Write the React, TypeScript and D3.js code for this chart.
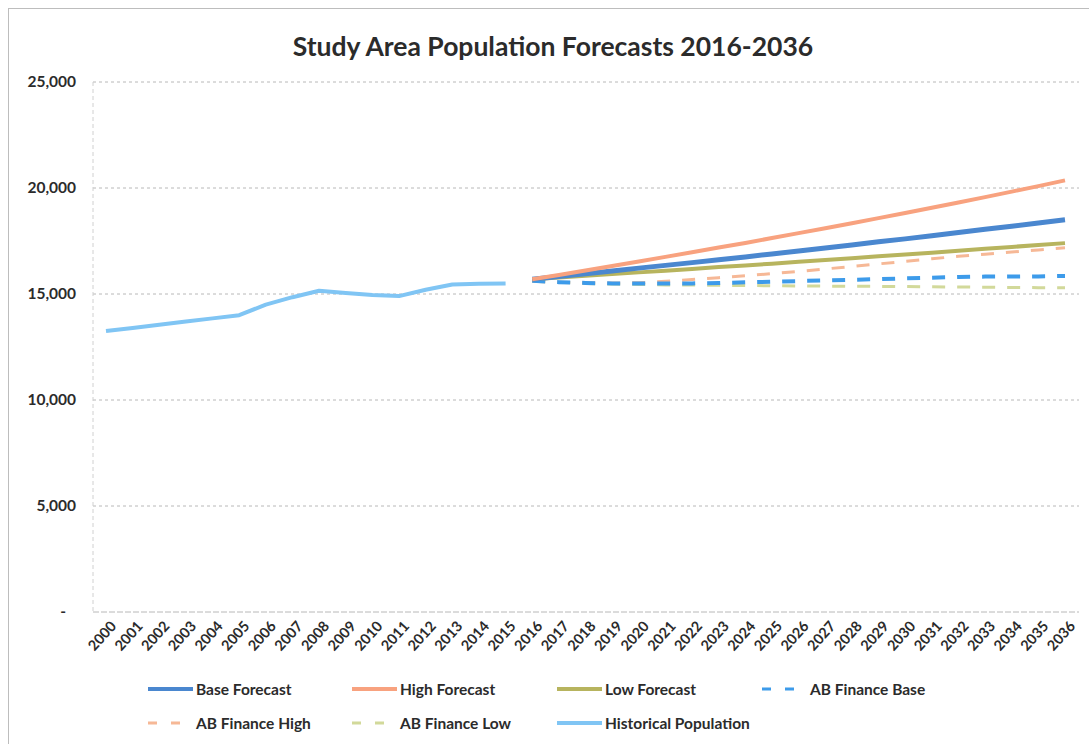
import React from "react";
import * as d3 from "d3";

// Years on the category axis
const years: number[] = d3.range(2000, 2037);
const forecastYears: number[] = d3.range(2016, 2037);
const historicalYears: number[] = d3.range(2000, 2016);

// Historical population 2000-2015
const historicalPopulation: number[] = [
  13250, 13400, 13550, 13700, 13850, 14000, 14500, 14850, 15150, 15050, 14950,
  14900, 15200, 15450, 15480, 15500,
];

// Forecasts 2016-2036
const baseForecast: number[] = [
  15700, 15830, 15960, 16090, 16220, 16350, 16480, 16620, 16750, 16890, 17030,
  17170, 17310, 17460, 17600, 17750, 17900, 18050, 18200, 18350, 18500,
];
const highForecast: number[] = [
  15700, 15900, 16110, 16320, 16530, 16750, 16970, 17190, 17410, 17640, 17870,
  18100, 18340, 18580, 18820, 19070, 19320, 19570, 19830, 20090, 20360,
];
const lowForecast: number[] = [
  15700, 15780, 15860, 15940, 16020, 16100, 16180, 16270, 16350, 16430, 16520,
  16600, 16690, 16780, 16860, 16950, 17040, 17130, 17220, 17310, 17400,
];
const abFinanceBase: number[] = [
  15620, 15560, 15520, 15500, 15490, 15490, 15500, 15520, 15550, 15580, 15610,
  15640, 15670, 15700, 15740, 15770, 15800, 15820, 15820, 15830, 15850,
];
const abFinanceHigh: number[] = [
  15600, 15560, 15530, 15520, 15530, 15600, 15680, 15770, 15860, 15960, 16060,
  16180, 16300, 16420, 16540, 16660, 16780, 16880, 16980, 17080, 17180,
];
const abFinanceLow: number[] = [
  15600, 15550, 15500, 15470, 15450, 15430, 15420, 15410, 15400, 15390, 15380,
  15370, 15360, 15360, 15350, 15340, 15330, 15320, 15310, 15300, 15300,
];

const yTicks: number[] = [0, 5000, 10000, 15000, 20000, 25000];

type Series = {
  name: string;
  years: number[];
  values: number[];
  color: string;
  width: number;
  dash?: string;
};

const series: Series[] = [
  { name: "Base Forecast", years: forecastYears, values: baseForecast, color: "#4a87cf", width: 5 },
  { name: "High Forecast", years: forecastYears, values: highForecast, color: "#f8a27f", width: 4 },
  { name: "Low Forecast", years: forecastYears, values: lowForecast, color: "#b7b45e", width: 4 },
  { name: "AB Finance Base", years: forecastYears, values: abFinanceBase, color: "#3d9bea", width: 4, dash: "13,12" },
  { name: "AB Finance High", years: forecastYears, values: abFinanceHigh, color: "#f6b896", width: 3, dash: "13,12" },
  { name: "AB Finance Low", years: forecastYears, values: abFinanceLow, color: "#d2d99a", width: 3, dash: "13,12" },
  { name: "Historical Population", years: historicalYears, values: historicalPopulation, color: "#80c5f4", width: 4 },
];

// Draw order: dashed series below solid ones
const drawOrder = [5, 4, 3, 6, 2, 0, 1];

const FONT = "Lato, 'Open Sans', sans-serif";

export default function App() {
  const x = d3.scalePoint<number>().domain(years).range([106, 1065]);
  const y = d3.scaleLinear().domain([0, 25000]).range([612, 82]);
  const fmt = d3.format(",");

  const line = d3
    .line<[number, number]>()
    .x((d) => x(d[0]) as number)
    .y((d) => y(d[1]));

  const legendCols = [148, 352, 557, 762];
  const legendRows = [689, 723];

  return (
    <svg
      width={1089}
      height={744}
      style={{ position: "absolute", left: 0, top: 0, background: "#fff" }}
      fontFamily={FONT}
    >
      <rect x={8.5} y={8.5} width={1090} height={740} fill="none" stroke="#bdbdbd" />
      <text x={553} y={56} textAnchor="middle" fontSize={26.5} fontWeight={700} fill="#2b2b2b">
        Study Area Population Forecasts 2016-2036
      </text>

      {/* gridlines */}
      {yTicks.map((t) => (
        <g key={t}>
          <line
            x1={93}
            x2={1079}
            y1={y(t)}
            y2={y(t)}
            stroke="#b8b8b8"
            strokeWidth={1}
            strokeDasharray={t === 0 ? "6,2" : "3,3"}
          />
          <text
            x={t === 0 ? 66 : 76}
            y={y(t) + 5}
            textAnchor="end"
            fontSize={15.5}
            fontWeight={700}
            fill="#2b2b2b"
          >
            {t === 0 ? "-" : fmt(t)}
          </text>
        </g>
      ))}
      <line x1={93} x2={93} y1={y(25000)} y2={y(0)} stroke="#d0d0d0" strokeDasharray="4,3" />

      {/* x labels */}
      {years.map((yr) => (
        <text
          key={yr}
          transform={`translate(${(x(yr) as number) + 7},${623}) rotate(-48)`}
          textAnchor="end"
          dominantBaseline="central"
          fontSize={14.5}
          fontWeight={700}
          fill="#2b2b2b"
        >
          {yr}
        </text>
      ))}

      {/* series */}
      {drawOrder.map((i) => {
        const s = series[i];
        const pts = s.years.map((yr, k) => [yr, s.values[k]] as [number, number]);
        return (
          <path
            key={s.name}
            d={line(pts) ?? ""}
            fill="none"
            stroke={s.color}
            strokeWidth={s.width}
            strokeDasharray={s.dash}
            strokeLinejoin="round"
          />
        );
      })}

      {/* legend */}
      {series.map((s, i) => {
        const row = i < 4 ? 0 : 1;
        const col = i < 4 ? i : i - 4;
        const lx = legendCols[col];
        const ly = legendRows[row];
        return (
          <g key={s.name}>
            <line
              x1={lx}
              x2={lx + 45}
              y1={ly}
              y2={ly}
              stroke={s.color}
              strokeWidth={s.dash ? 3 : 4}
              strokeDasharray={s.dash ? "9,14" : undefined}
            />
            <text x={lx + 48} y={ly + 5.5} fontSize={15.5} fontWeight={700} fill="#2b2b2b">
              {s.name}
            </text>
          </g>
        );
      })}
    </svg>
  );
}
